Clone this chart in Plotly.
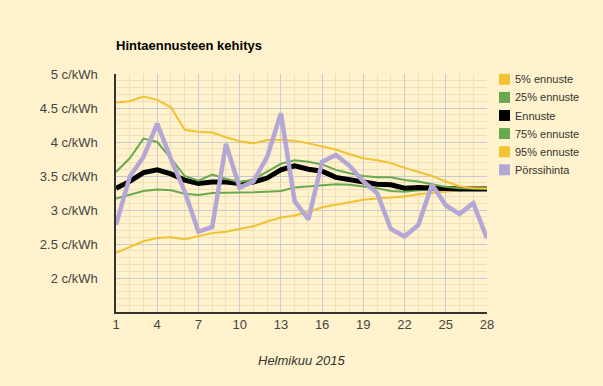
import plotly.graph_objects as go

days = list(range(1, 29))
p5 = [2.37, 2.45, 2.54, 2.59, 2.60, 2.57, 2.61, 2.66, 2.68, 2.72, 2.76, 2.83, 2.89, 2.92,
      2.97, 3.04, 3.08, 3.11, 3.15, 3.17, 3.18, 3.20, 3.23, 3.25, 3.28, 3.30, 3.31, 3.31]
p25 = [3.17, 3.23, 3.28, 3.30, 3.29, 3.24, 3.22, 3.25, 3.25, 3.25, 3.26, 3.27, 3.28, 3.33,
       3.35, 3.37, 3.38, 3.37, 3.35, 3.32, 3.28, 3.27, 3.29, 3.29, 3.29, 3.30, 3.31, 3.31]
ennuste = [3.32, 3.42, 3.55, 3.59, 3.53, 3.44, 3.39, 3.41, 3.41, 3.39, 3.41, 3.47, 3.59, 3.65,
           3.60, 3.57, 3.48, 3.45, 3.42, 3.38, 3.37, 3.32, 3.33, 3.32, 3.31, 3.31, 3.31, 3.31]
p75 = [3.56, 3.76, 4.05, 4.00, 3.76, 3.50, 3.43, 3.52, 3.46, 3.41, 3.45, 3.56, 3.68, 3.73,
       3.71, 3.67, 3.59, 3.54, 3.50, 3.48, 3.48, 3.44, 3.42, 3.38, 3.34, 3.32, 3.31, 3.31]
p95 = [4.58, 4.60, 4.67, 4.62, 4.51, 4.18, 4.15, 4.14, 4.07, 4.01, 3.98, 4.03, 4.03, 4.02,
       3.98, 3.94, 3.89, 3.82, 3.76, 3.73, 3.69, 3.62, 3.56, 3.50, 3.42, 3.35, 3.32, 3.32]
porssi = [2.78, 3.49, 3.78, 4.27, 3.75, 3.27, 2.68, 2.75, 3.97, 3.33, 3.42, 3.78, 4.42, 3.13,
          2.86, 3.71, 3.81, 3.65, 3.42, 3.25, 2.72, 2.61, 2.78, 3.37, 3.07, 2.94, 3.10, 2.58]

x_ticks = [1, 4, 7, 10, 13, 16, 19, 22, 25, 28]
y_ticks = [2, 2.5, 3, 3.5, 4, 4.5, 5]
y_labels = ["2 c/kWh", "2.5 c/kWh", "3 c/kWh", "3.5 c/kWh", "4 c/kWh", "4.5 c/kWh", "5 c/kWh"]

YELLOW = "#F1C232"
GREEN = "#6AA84F"
BLACK = "#000000"
PURPLE = "#B4A7D6"
BG = "#FFF2CC"

series = [
    ("5% ennuste", p5, YELLOW, 2),
    ("25% ennuste", p25, GREEN, 2),
    ("Ennuste", ennuste, BLACK, 5),
    ("75% ennuste", p75, GREEN, 2),
    ("95% ennuste", p95, YELLOW, 2),
    ("Pörssihinta", porssi, PURPLE, 4.5),
]

W, H = 603, 386
L, R, T, B = 116, 116, 74, 74
PW, PH = W - L - R, H - T - B


def px_x(x):
    return (x - L) / PW


def px_y(y):
    return (H - B - y) / PH


fig = go.Figure()
for name, vals, col, w in series:
    fig.add_trace(go.Scatter(x=days, y=vals, mode="lines", name=name,
                             line=dict(color=col, width=w), showlegend=False))

# custom legend (squares + labels)
shapes = []
annotations = []
for i, (name, vals, col, w) in enumerate(series):
    cy = 79.3 + i * 18.1
    shapes.append(dict(type="rect", xref="paper", yref="paper",
                       x0=px_x(499), x1=px_x(510), y0=px_y(cy + 5.5), y1=px_y(cy - 5.5),
                       fillcolor=col, line=dict(width=0)))
    annotations.append(dict(text=name, xref="paper", yref="paper",
                            x=px_x(513), y=px_y(cy), xanchor="left", yanchor="middle",
                            showarrow=False, font=dict(size=11, color="#333333")))

annotations.append(dict(text="<b>Hintaennusteen kehitys</b>", xref="paper", yref="paper",
                        x=px_x(114), y=px_y(46), xanchor="left", yanchor="middle",
                        showarrow=False, font=dict(size=13, color="#000000")))
annotations.append(dict(text="<i>Helmikuu 2015</i>", xref="paper", yref="paper",
                        x=0.5, y=px_y(360), xanchor="center", yanchor="middle",
                        showarrow=False, font=dict(size=13, color="#333333")))

fig.update_layout(
    width=W, height=H,
    margin=dict(l=L, r=R, t=T, b=B, autoexpand=False),
    paper_bgcolor=BG, plot_bgcolor=BG,
    showlegend=False,
    font=dict(family="Liberation Sans, Arial, sans-serif", size=13, color="#444444"),
    xaxis=dict(range=[1, 28], tickmode="array", tickvals=x_ticks,
               showgrid=True, gridcolor="#C9C9CF", gridwidth=1,
               minor=dict(dtick=1, tick0=1, showgrid=True, gridcolor="#EEE0BB", gridwidth=1),
               showline=True, linecolor="#333333", linewidth=1.5,
               zeroline=False, ticks="", tickfont=dict(size=13, color="#444444")),
    yaxis=dict(range=[1.5, 5], tickmode="array", tickvals=y_ticks, ticktext=y_labels,
               showgrid=True, gridcolor="#C9C9CF", gridwidth=1,
               minor=dict(dtick=0.1, tick0=1.5, showgrid=True, gridcolor="#EEE0BB", gridwidth=1),
               showline=True, linecolor="#333333", linewidth=1.5,
               zeroline=False, ticks="", ticklabelstandoff=14,
               tickfont=dict(size=13, color="#444444")),
    shapes=shapes,
    annotations=annotations,
)

fig.write_html("out.html", config={"displayModeBar": False},
               post_script="document.body.style.margin='0';"
                           "document.body.style.background='" + BG + "';")
